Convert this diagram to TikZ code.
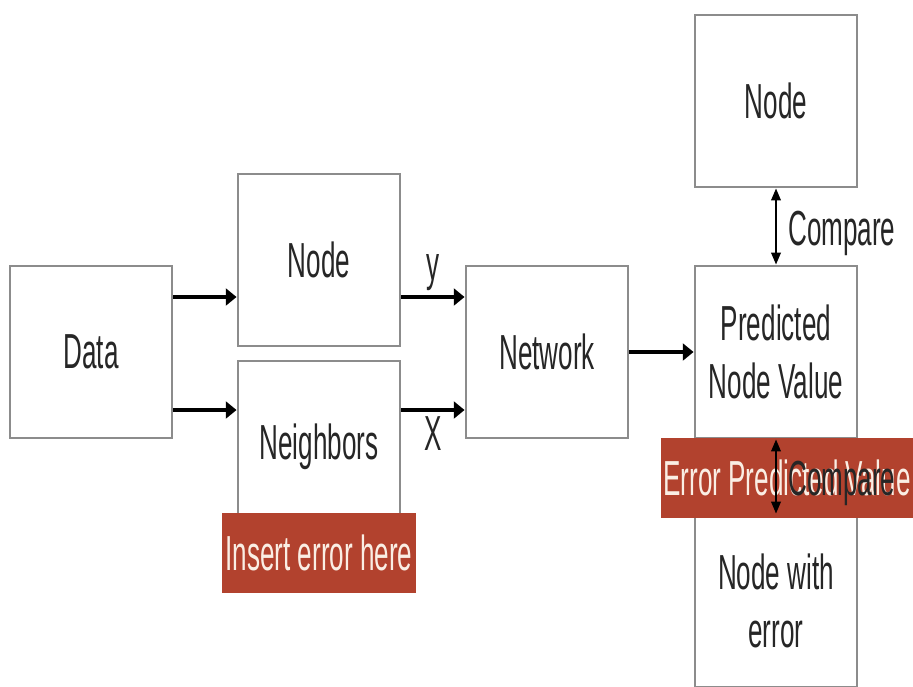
\documentclass[tikz,border=0pt]{standalone}
\usepackage{fontspec}
\setmainfont{Liberation Sans}[FakeStretch=0.53]
\usetikzlibrary{arrows.meta}

\definecolor{boxgray}{RGB}{140,140,140}
\definecolor{errred}{RGB}{178,66,46}
\definecolor{errtext}{RGB}{250,238,228}

\tikzset{
  block/.style={draw=boxgray, line width=2pt, fill=white, minimum width=4.05cm, minimum height=4.3cm, align=center},
  errtag/.style={fill=errred, text=errtext, minimum height=2cm, inner sep=0pt},
  flow/.style={line width=2.8pt, -{Triangle[length=0.27cm,width=0.42cm]}},
  cmp/.style={line width=1.3pt, {Triangle[length=0.3cm,width=0.24cm]}-{Triangle[length=0.3cm,width=0.24cm]}},
  varname/.style={inner sep=3pt},
  cmplabel/.style={right, inner sep=8pt, yshift=-5pt}
}

\begin{document}
\begin{tikzpicture}[x=0.025cm, y=-0.025cm, font=\fontsize{35}{41}\selectfont, text=black!85]
\clip (0,0) rectangle (913,686);
% rows of the input arrows
\coordinate (row1) at (0,297);
\coordinate (row2) at (0,410);

\node[block] (data) at (91,352) {Data};
\node[block] (node) at (319,260) {Node};
\node[block] (nbrs) at (319,447) {Neighbors};
\node[block] (net) at (547,352) {Network};
\node[block] (truth) at (776,101) {Node};
\node[block] (pred) at (776,352) {Predicted\\Node Value};
\node[block] (noisy) at (776,601) {Node with\\error};

\node[errtag, minimum width=4.85cm] (insert) at (319,553) {Insert error here};
\node[errtag, minimum width=6.3cm] (errval) at (787,478) {Error Predicted Value};

\draw[flow] (data.east |- row1) -- (node.west |- row1);
\draw[flow] (data.east |- row2) -- (nbrs.west |- row2);
\draw[flow] (node.east |- row1) -- node[above, varname] (ylab) {y} (net.west |- row1);
\draw[flow] (nbrs.east |- row2) -- node[below, varname] (xlab) {X} (net.west |- row2);
\draw[flow] (net) -- (pred);
\draw[cmp] (truth) -- node[cmplabel] (cmp1) {Compare} (pred);
\draw[cmp] (pred) -- node[cmplabel] (cmp2) {Compare} (noisy);
\end{tikzpicture}
\end{document}
